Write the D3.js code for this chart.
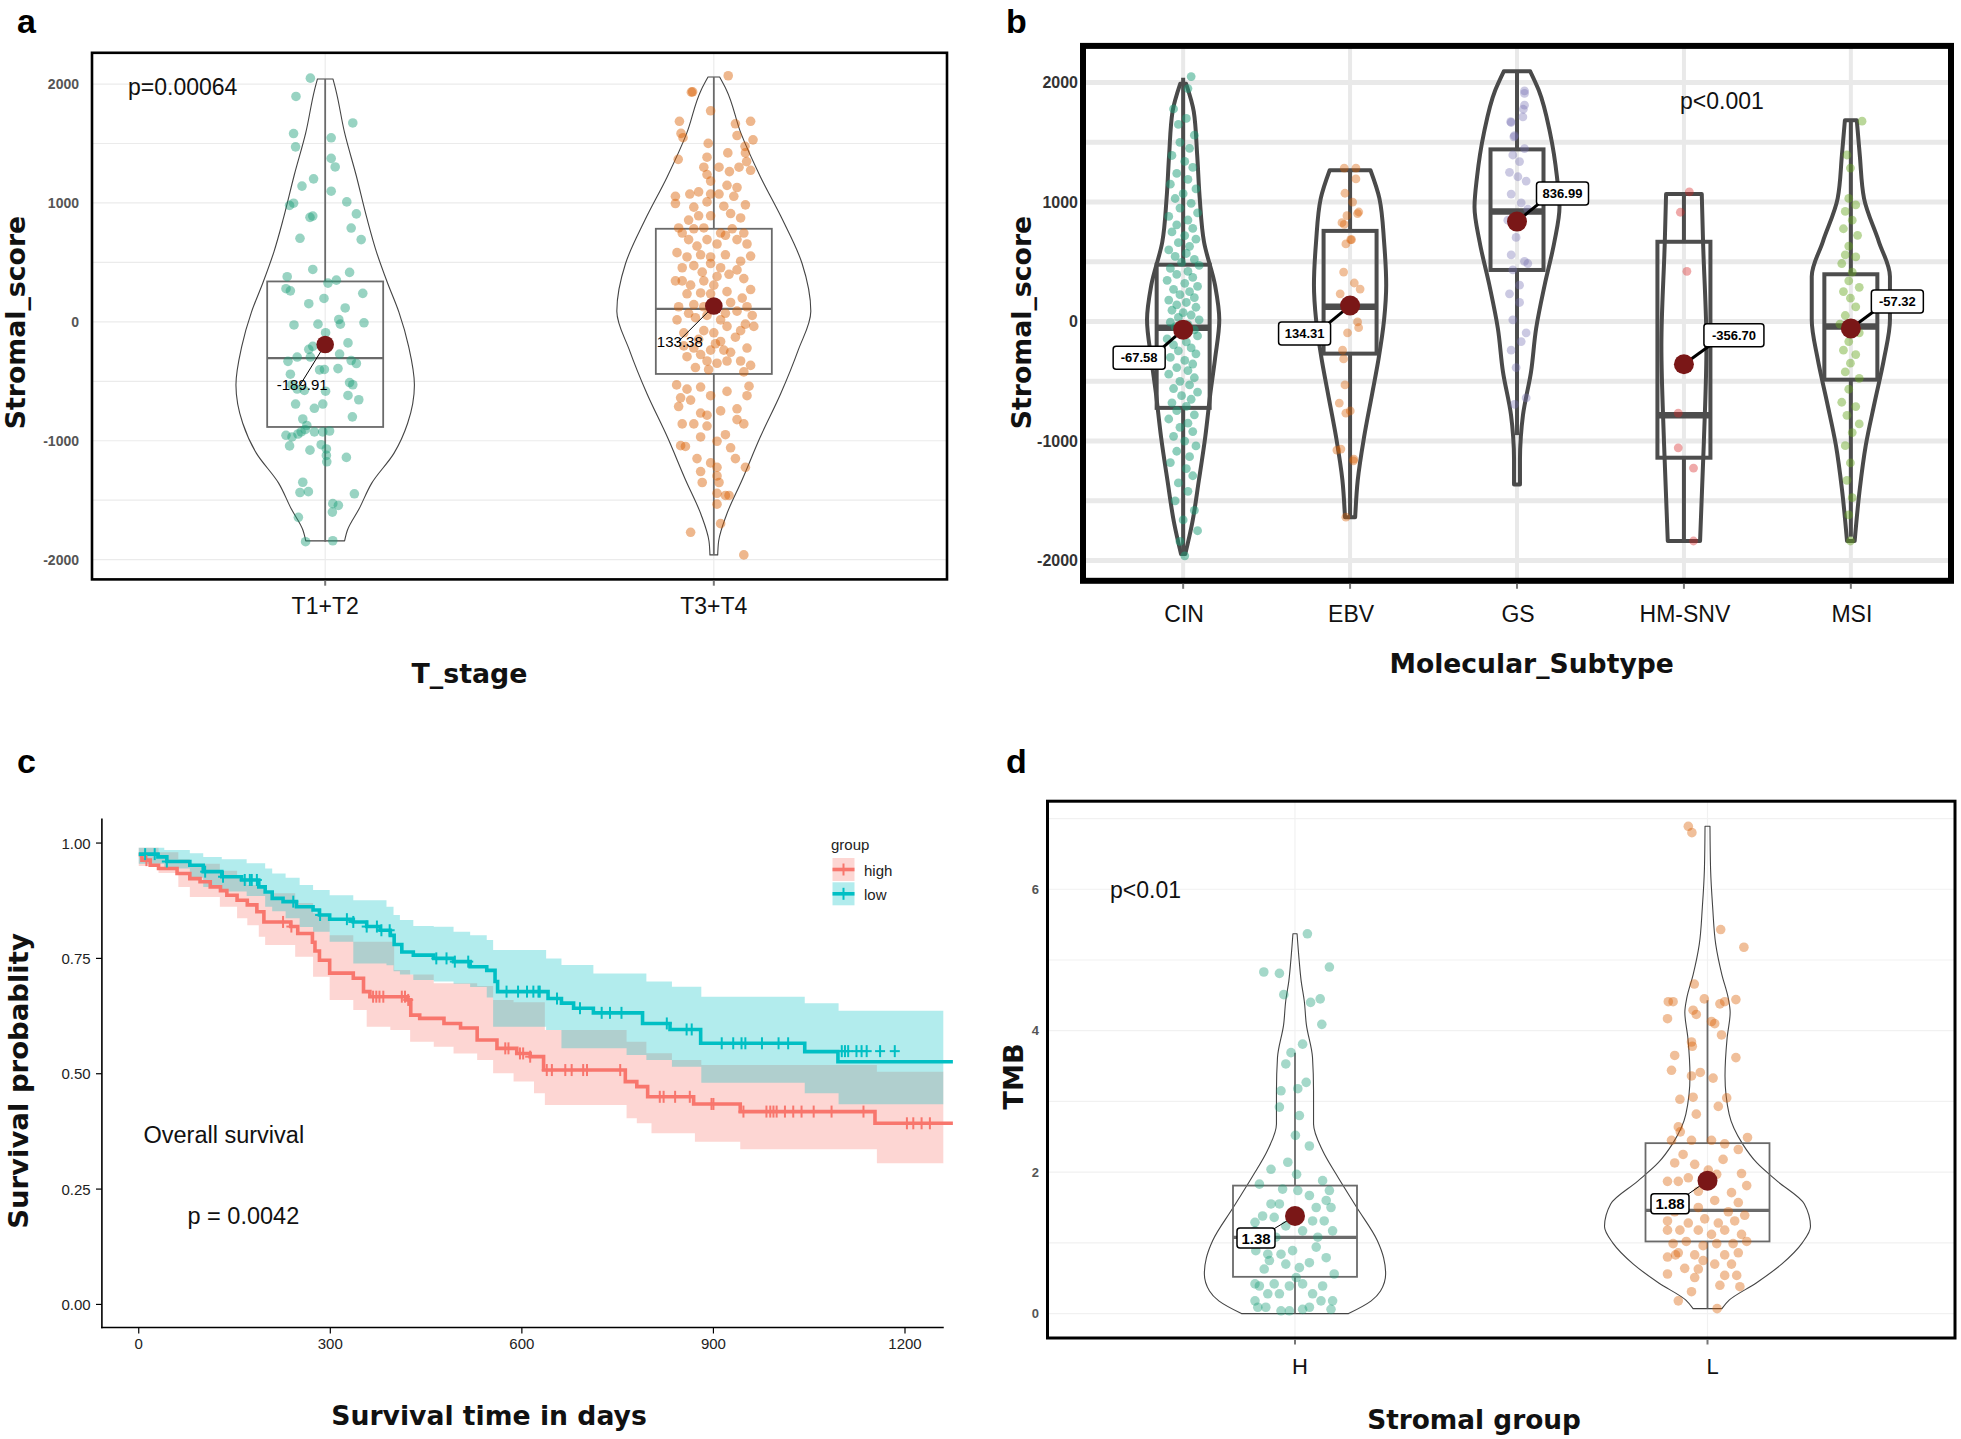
<!DOCTYPE html>
<html><head><meta charset="utf-8">
<script src="https://cdn.jsdelivr.net/npm/d3@7"></script>
<style>body{margin:0;background:#fff}svg{display:block}</style>
</head><body>
<svg id="chart" width="1961" height="1439"></svg>
<script>
// ---------------- DATA ----------------
// Panel a
const catsA = ['T1+T2', 'T3+T4'];
const statsA = [[-1849, -884, -305, 340, 2043], [-1960, -438, 110, 783, 2059]]; // min,q1,med,q3,max
const meansA = [-189.91, 133.38];
const violinA = [
  [[2043,0.08],[1950,0.11],[1591,0.2],[1231,0.32],[872,0.43],[585,0.53],[333,0.64],[82,0.76],[-206,0.86],[-530,0.92],[-853,0.85],[-1104,0.71],[-1356,0.48],[-1572,0.35],[-1750,0.23],[-1842,0.2]],
  [[2059,0.06],[1951,0.13],[1585,0.28],[1221,0.48],[856,0.71],[491,0.91],[90,1],[-238,0.87],[-603,0.69],[-967,0.48],[-1332,0.29],[-1624,0.13],[-1843,0.05],[-1960,0.04]]
];
const ptsT12 = [[-0.37,2050],[-0.73,1896],[0.69,1673],[-0.79,1584],[0.15,1548],[-0.74,1472],[0.15,1375],[0.25,1303],[-0.29,1203],[-0.58,1142],[0.15,1099],[0.54,1009],[-0.89,980],[-0.79,998],[-0.31,890],[-0.38,879],[0.78,908],[0.65,789],[-0.63,703],[0.9,692],[-0.31,441],[0.61,416],[-0.95,380],[-0.98,279],[-0.87,261],[0.28,351],[0.07,326],[0.94,240],[-0.41,153],[-0.03,197],[0.5,117],[0.34,20],[0.38,-19],[-0.78,-26],[-0.18,-19],[0.97,-8],[0.01,-91],[-0.31,-206],[-0.41,-231],[0.57,-177],[-0.7,-296],[-0.37,-296],[0.36,-271],[-0.93,-332],[-0.87,-440],[0.65,-325],[0.78,-350],[0.32,-393],[-0.14,-404],[-0.02,-400],[0.61,-511],[0.69,-529],[-0.83,-529],[-0.7,-565],[-0.52,-576],[0.01,-583],[0.57,-619],[0.84,-655],[-0.27,-727],[-0.06,-691],[-0.74,-691],[0.68,-799],[-0.56,-817],[-0.46,-871],[-0.6,-925],[-0.27,-925],[-0.98,-954],[-0.83,-968],[-0.68,-943],[-0.5,-907],[-0.06,-925],[0.11,-918],[-0.89,-1043],[-0.1,-1033],[0.03,-1069],[-0.38,-1079],[0.03,-1123],[0.04,-1177],[0.53,-1140],[-0.56,-1349],[-0.63,-1435],[-0.42,-1428],[0.73,-1446],[0.19,-1529],[0.33,-1543],[0.18,-1600],[-0.67,-1644],[-0.49,-1849],[0.19,-1841]];
const ptsT34 = [[0.36,2070],[-0.53,1935],[-0.56,1932],[-0.08,1775],[-0.86,1687],[0.54,1666],[0.92,1687],[-0.82,1585],[-0.77,1549],[0.98,1531],[0.58,1567],[-0.14,1501],[0.78,1476],[-0.89,1367],[-0.17,1385],[0.35,1421],[0.79,1421],[0.82,1348],[-0.25,1301],[0.13,1301],[0.39,1264],[0.63,1301],[0.92,1275],[-0.17,1239],[-0.08,1184],[0.33,1148],[0.58,1130],[-0.6,1075],[-0.96,1056],[-0.38,1093],[-0.08,1075],[0.13,1075],[0.5,1056],[-0.96,995],[-0.5,965],[-0.17,1009],[0.79,984],[0.25,973],[-0.63,856],[-0.38,892],[-0.08,892],[0.42,911],[0.67,874],[-0.88,790],[-0.25,790],[0.17,747],[0.46,783],[0.75,747],[-0.63,692],[-0.17,692],[0.08,655],[0.58,692],[0.83,655],[-0.92,582],[-0.33,564],[-0.08,546],[0.29,564],[0.92,553],[-0.79,455],[-0.5,473],[-0.08,491],[0.17,455],[0.58,437],[0.75,364],[-0.58,309],[-0.25,345],[0.08,382],[-0.67,236],[-0.33,243],[0.33,254],[0.92,272],[-0.88,127],[-0.5,145],[0.58,90],[0.83,127],[-0.92,17],[-0.46,35],[0.17,17],[0.33,-38],[1.0,-38],[-0.75,-92],[-0.25,-74],[0,-92],[0.54,-129],[0.67,-74],[-0.5,-220],[-0.08,-238],[0.25,-238],[0.42,-256],[0.83,-220],[-0.67,-293],[-0.17,-329],[0.08,-348],[0.67,-329],[0.92,-366],[-0.46,-384],[-0.13,-402],[0.75,-421],[-0.93,-530],[-0.67,-566],[-0.33,-548],[0.88,-541],[-0.83,-639],[-0.58,-658],[-0.08,-621],[0.33,-585],[0.83,-621],[-0.88,-712],[-0.33,-767],[-0.17,-785],[0.17,-749],[0.58,-731],[-0.5,-858],[-0.79,-858],[-0.17,-876],[0.58,-822],[0.75,-858],[-0.83,-1041],[-0.71,-1048],[-0.33,-968],[0.08,-1004],[0.29,-949],[0.42,-1059],[-0.42,-1150],[-0.08,-1186],[0.54,-1150],[0.08,-1223],[-0.33,-1259],[0.08,-1296],[0.79,-1223],[-0.29,-1351],[0.13,-1351],[0.08,-1442],[0.29,-1460],[0.38,-1460],[0.08,-1533],[0.17,-1697],[-0.58,-1770],[0.75,-1960],[-0.79,747],[-0.5,783],[0.29,728],[-0.42,637],[-0.67,546],[0.67,510],[0.38,400],[-0.29,418],[-0.79,345],[-0.08,236],[0.71,200],[-0.63,72],[-0.17,54],[0.29,72],[0.79,-19],[-0.38,-147],[0.17,-165],[-0.75,-202],[0.33,-329],[-0.33,-275],[0.04,-184],[0.96,54],[-0.96,345],[0.42,163],[0,309],[-0.25,127]];
const ticksA = [2000, 1000, 0, -1000, -2000];
const gridA = [2000, 1500, 1000, 500, 0, -500, -1000, -1500, -2000];

// Panel b
const catsB = ['CIN', 'EBV', 'GS', 'HM-SNV', 'MSI'];
const statsB = [[-1950,-722,-51,476,2040],[-1637,-268,124,759,1267],[-950,432,922,1441,2095],[-1836,-1139,-784,668,1067],[-1800,-486,-40,396,1684]];
const meansB = [-67.58, 134.31, 836.99, -356.70, -57.32];
const violinB = [
  [[1990,0.07],[1757,0.25],[1394,0.33],[1031,0.39],[668,0.49],[305,0.75],[15,0.85],[-312,0.75],[-602,0.64],[-965,0.52],[-1328,0.37],[-1691,0.21],[-1945,0.05]],
  [[1267,0.48],[1031,0.69],[668,0.8],[305,0.85],[15,0.8],[-312,0.67],[-602,0.52],[-965,0.33],[-1328,0.18],[-1637,0.12]],
  [[2095,0.31],[1938,0.51],[1575,0.78],[1212,0.94],[958,1],[668,0.88],[305,0.65],[-58,0.45],[-421,0.33],[-784,0.14],[-965,0.09],[-1150,0.07],[-1364,0.07]],
  [[1067,0.42],[668,0.45],[-200,0.53],[-1000,0.47],[-1836,0.38]],
  [[1684,0.14],[1394,0.21],[1031,0.31],[668,0.66],[378,0.92],[15,0.92],[-312,0.78],[-675,0.56],[-1038,0.35],[-1401,0.21],[-1836,0.09]]
];
const ptsCIN = [[0.5,2050],[0.3,1950],[-0.6,1780],[0.2,1700],[-0.3,1650],[0.7,1560],[-0.2,1500],[0.4,1450],[-0.7,1390],[0.1,1340],[0.6,1290],[-0.4,1240],[0.3,1190],[-0.8,1150],[0.8,1110],[0,1070],[-0.5,1030],[0.5,990],[-0.2,950],[0.9,910],[-0.9,880],[0.3,850],[-0.4,810],[0.6,780],[-0.7,750],[0.1,720],[0.8,690],[-0.3,660],[0.4,630],[-0.9,600],[0.2,570],[-0.5,545],[0.7,520],[-0.1,495],[1,470],[-0.8,445],[0.3,420],[-0.4,395],[0.6,370],[-1,345],[0.1,320],[0.9,295],[-0.6,270],[0.4,250],[-0.2,225],[0.7,200],[-0.9,180],[0.2,160],[-0.4,140],[0.8,120],[-0.7,95],[0,75],[0.5,55],[-0.3,35],[1,15],[-0.8,-5],[0.3,-25],[-0.5,-45],[0.7,-70],[-0.1,-95],[0.9,-120],[-1,-145],[0.2,-170],[-0.6,-195],[0.5,-220],[-0.3,-245],[0.8,-270],[-0.8,-300],[0.1,-325],[0.6,-355],[-0.4,-385],[0.3,-410],[-0.9,-440],[0.7,-470],[-0.2,-500],[0.4,-530],[-0.6,-560],[0.9,-590],[-0.1,-620],[0.5,-650],[-0.7,-680],[0.2,-710],[-0.4,-745],[0.7,-780],[-0.9,-815],[0.3,-850],[-0.2,-885],[0.6,-920],[-0.6,-960],[0.1,-1000],[0.8,-1040],[-0.4,-1085],[0.4,-1130],[-0.8,-1180],[0.2,-1230],[0.6,-1290],[-0.3,-1350],[0.3,-1420],[-0.5,-1500],[0.7,-1580],[0,-1660],[0.9,-1750],[-0.2,-1840],[0.1,-1960]];
const ptsEBV = [[-0.39,1285],[0.39,1285],[0.39,1194],[-0.34,1074],[-0.21,886],[0.5,904],[-0.39,813],[0.1,686],[-0.28,650],[-0.43,414],[0.28,323],[-0.66,232],[0.5,-3],[0.57,-51],[-0.17,-94],[-0.5,-239],[-0.43,-312],[-0.34,-530],[-0.72,-682],[0.01,-748],[-0.28,-766],[-0.61,-1067],[0.23,-1165],[-0.28,-1637],[-0.54,828],[0.58,917],[0.17,1000],[0.04,685],[0.67,272],[-0.88,-1075],[0.25,-1150]];
const ptsGS = [[0.5,1909],[0.5,1811],[-0.39,1666],[0.39,1713],[-0.17,1557],[0.5,1448],[-0.28,1394],[0.17,1339],[-0.5,1249],[0.06,1212],[0.61,1176],[-0.39,1067],[0.28,994],[0.72,940],[-0.61,849],[-0.06,704],[-0.39,559],[0.5,504],[-0.28,432],[0.72,486],[0.17,305],[-0.5,232],[0.17,160],[-0.28,15],[0.61,-94],[0.28,-167],[-0.39,-239],[-0.06,-385],[0.61,-639],[-0.17,-693],[0.5,1931],[0.42,1777],[-0.42,1673],[-0.21,1546]];
const ptsHM = [[0.36,1085],[-0.24,915],[0.2,421],[-0.38,-766],[-0.38,-1056],[0.64,-1226],[0.64,-1836]];
const ptsMSI = [[0.8,1677],[-0.28,1394],[-0.03,1285],[-0.15,1031],[0.35,976],[-0.4,922],[0.1,849],[-0.53,777],[0.48,722],[-0.15,632],[-0.4,559],[0.35,541],[-0.65,486],[0.1,414],[-0.15,341],[0.6,287],[-0.53,251],[-0.03,196],[0.35,124],[-0.4,51],[-0.78,-22],[0.6,-94],[-0.15,-167],[-0.53,-239],[0.35,-276],[-0.03,-348],[-0.4,-421],[0.6,-475],[-0.15,-566],[-0.65,-675],[0.35,-711],[-0.28,-784],[0.6,-856],[0.1,-929],[-0.4,-1038],[-0.03,-1183],[-0.28,-1328],[0.1,-1473],[-0.15,-1618],[-0.03,-1836]];
const ticksB = [2000, 1000, 0, -1000, -2000];
const gridB = [2000, 1500, 1000, 500, 0, -500, -1000, -1500, -2000];

// Panel c (Kaplan-Meier)
const kmGroups = ['high', 'low'];
const highCurve = [[0,0.975],[5,0.963],[18,0.952],[31,0.945],[60,0.934],[80,0.923],[96,0.916],[112,0.905],[128,0.897],[138,0.887],[154,0.876],[170,0.866],[185,0.851],[196,0.829],[238,0.819],[249,0.804],[272,0.785],[276,0.766],[283,0.746],[299,0.718],[336,0.707],[352,0.678],[362,0.667],[420,0.66],[426,0.627],[440,0.62],[478,0.609],[504,0.599],[530,0.573],[561,0.555],[592,0.544],[613,0.537],[634,0.508],[762,0.483],[780,0.472],[797,0.45],[869,0.4345],[942,0.418],[1153,0.3926],[1275,0.3926]];
const lowCurve = [[0,0.976],[30,0.97],[44,0.96],[80,0.952],[101,0.938],[130,0.927],[161,0.92],[188,0.905],[198,0.894],[209,0.88],[226,0.873],[247,0.862],[273,0.855],[283,0.844],[299,0.835],[336,0.829],[357,0.819],[378,0.811],[394,0.8],[400,0.78],[412,0.764],[430,0.757],[462,0.75],[493,0.743],[519,0.732],[545,0.724],[558,0.7],[562,0.678],[641,0.663],[662,0.653],[681,0.642],[712,0.632],[789,0.609],[832,0.596],[880,0.566],[1043,0.548],[1095,0.526],[1275,0.526]];
const highBand = [[0,0.95,0.99],[31,0.935,0.98],[62,0.905,0.965],[80,0.883,0.955],[127,0.862,0.94],[154,0.837,0.925],[170,0.822,0.909],[188,0.797,0.905],[198,0.779,0.891],[245,0.7535,0.87],[273,0.71,0.848],[299,0.66,0.8],[336,0.638,0.786],[357,0.602,0.786],[394,0.595,0.786],[400,0.595,0.725],[425,0.5695,0.715],[462,0.5586,0.696],[493,0.544,0.696],[530,0.53,0.69],[555,0.501,0.66],[587,0.483,0.655],[619,0.4576,0.655],[636,0.432,0.595],[764,0.4035,0.5695],[780,0.3927,0.5695],[795,0.3927,0.5443],[803,0.371,0.5443],[835,0.371,0.53],[871,0.3528,0.53],[881,0.3528,0.519],[942,0.3363,0.519],[1156,0.306,0.5045],[1260,0.306,0.5045]];
const lowBand = [[0,0.955,0.99],[40,0.945,0.985],[80,0.925,0.978],[101,0.905,0.97],[130,0.895,0.965],[169,0.885,0.956],[198,0.862,0.945],[209,0.852,0.934],[230,0.837,0.925],[252,0.818,0.909],[273,0.808,0.898],[299,0.786,0.887],[336,0.739,0.876],[388,0.735,0.862],[399,0.722,0.844],[409,0.715,0.833],[430,0.703,0.82],[462,0.7,0.8185],[493,0.695,0.808],[519,0.688,0.8],[545,0.665,0.79],[555,0.602,0.768],[638,0.595,0.75],[662,0.555,0.7355],[712,0.555,0.717],[764,0.5406,0.717],[795,0.53,0.7],[835,0.515,0.6885],[881,0.4806,0.667],[1043,0.4576,0.6526],[1096,0.434,0.6366],[1260,0.434,0.6366]];
const censorHigh = [12,226,239,367,372,377,383,412,417,422,574,579,597,602,613,639,647,668,678,696,702,754,816,822,840,863,897,900,947,983,989,994,999,1012,1025,1038,1057,1085,1135,1203,1213,1226,1239];
const censorLow = [10,25,44,104,132,166,174,177,185,242,284,326,336,357,373,380,393,466,482,495,516,576,594,608,618,626,628,655,691,725,738,756,827,858,866,913,931,944,950,976,1002,1017];
const censorLowLate = [[1101,0.549],[1106,0.549],[1111,0.549],[1124,0.549],[1132,0.549],[1140,0.549],[1161,0.549],[1184,0.549]];
const ticksCx = [0, 300, 600, 900, 1200];
const ticksCy = [0, 0.25, 0.5, 0.75, 1];

// Panel d
const catsD = ['H', 'L'];
const statsD = [[0, 0.52, 1.077, 1.81, 3.69], [0.07, 1.02, 1.46, 2.41, 4.43]];
const meansD = [1.38, 1.88];
const violinD = [
  [[5.37,0.02],[5.0,0.04],[4.7,0.06],[4.42,0.09],[4.09,0.11],[3.62,0.17],[3.15,0.18],[2.68,0.18],[2.3,0.27],[1.97,0.4],[1.5,0.6],[1.03,0.8],[0.79,0.86],[0.56,0.88],[0.32,0.83],[0.18,0.74],[0,0.52]],
  [[6.89,0.024],[6.28,0.03],[5.75,0.05],[5.22,0.08],[4.79,0.14],[4.47,0.2],[4.26,0.22],[3.89,0.19],[3.36,0.17],[2.82,0.21],[2.4,0.34],[2.13,0.48],[1.87,0.68],[1.55,0.94],[1.23,1],[1.0,0.92],[0.7,0.72],[0.43,0.47],[0.19,0.21],[0.07,0.14]]
];
const ptsH = [[0.31,5.37],[0.86,4.9],[-0.78,4.83],[-0.39,4.81],[-0.28,4.51],[0.63,4.45],[0.39,4.4],[0.67,4.09],[0.19,3.81],[-0.1,3.69],[-0.23,3.53],[0.28,3.27],[-0.35,3.15],[0.07,3.18],[-0.39,2.92],[0.11,2.8],[0.01,2.52],[0.36,2.37],[-0.18,2.14],[-0.6,2.04],[0.04,1.97],[0.69,1.88],[-0.89,1.83],[-0.31,1.76],[0.07,1.74],[0.36,1.67],[0.78,1.6],[-0.6,1.55],[-0.39,1.55],[0.53,1.5],[0.11,1.43],[0.9,1.5],[-1.0,1.29],[-0.81,1.38],[-0.52,1.36],[0.44,1.31],[0.73,1.31],[0.94,1.17],[-1.0,1.17],[-0.23,1.24],[0.19,1.17],[0.53,0.94],[-0.98,0.89],[-0.68,0.84],[-0.35,0.84],[-0.06,0.89],[0.78,0.79],[-0.64,0.75],[-0.23,0.7],[0.11,0.65],[0.36,0.72],[0.98,0.56],[-1.0,0.42],[-0.89,0.39],[-0.52,0.42],[-0.14,0.39],[0.19,0.42],[0.69,0.39],[-0.68,0.28],[-0.39,0.28],[0.44,0.28],[-0.93,0.09],[-0.73,0.09],[-0.14,0.04],[0.19,0.06],[0.36,0.09],[0.9,0.06],[-0.35,0.04],[-1.0,0.18],[0.65,0.18],[0.94,0.18],[0.03,0.51],[-0.77,0.63],[0.57,1.08],[-0.48,1.08],[0.86,1.74]];
const ptsL = [[-0.48,6.89],[-0.39,6.8],[0.91,5.18],[0.33,5.43],[-0.33,4.66],[-0.98,4.41],[-0.86,4.41],[-0.08,4.45],[0.31,4.38],[0.43,4.41],[0.71,4.44],[-0.36,4.29],[-0.28,4.23],[-1.0,4.17],[0.1,4.13],[0.18,4.1],[0.35,3.94],[-0.4,3.84],[-0.38,3.78],[-0.82,3.65],[0.71,3.62],[-0.9,3.44],[-0.18,3.41],[0.14,3.33],[-0.4,3.36],[-0.69,3.03],[-0.36,3.06],[0.48,3.05],[0.27,2.93],[-0.28,2.82],[-0.73,2.64],[-0.68,2.57],[1.0,2.49],[-0.9,2.45],[-0.4,2.45],[0.1,2.45],[0.43,2.4],[0.77,2.32],[-0.61,2.25],[0.39,2.18],[-0.82,2.13],[-0.32,2.11],[0.02,2.03],[0.85,1.98],[-1.0,1.87],[-0.73,1.87],[-0.48,1.92],[0.23,1.97],[0.98,1.81],[-0.23,1.73],[0.6,1.71],[0.18,1.6],[-0.57,1.55],[0.77,1.57],[-0.23,1.5],[-0.82,1.44],[0.52,1.44],[0.93,1.39],[-1.0,1.31],[-0.48,1.28],[-0.07,1.34],[0.27,1.28],[0.68,1.31],[-1.0,1.18],[-0.69,1.18],[-0.23,1.18],[0.43,1.18],[0.85,1.12],[-0.86,0.99],[-0.53,1.02],[-0.11,0.96],[0.23,0.99],[0.64,0.99],[0.98,1.02],[-0.73,0.86],[-0.32,0.83],[0.43,0.83],[0.77,0.86],[-1.0,0.8],[-0.11,0.75],[0.18,0.7],[0.6,0.7],[-0.57,0.64],[-0.23,0.63],[-1.0,0.56],[0.43,0.54],[0.73,0.54],[-0.32,0.51],[0.31,0.4],[0.81,0.38],[-0.4,0.31],[-0.73,0.18],[0.24,0.07],[-0.8,0.83],[0.1,1.12]];
const ticksD = [0, 2, 4, 6];
const gridD = [0, 1, 2, 3, 4, 5, 6, 7];

// ---------------- DRAWING ----------------
const SANS = "'Liberation Sans', Arial, Helvetica, sans-serif";
const HEAVY = "'DejaVu Sans', 'Liberation Sans', sans-serif";
const svg = d3.select('#chart');
svg.append('rect').attr('width', 1961).attr('height', 1439).attr('fill', '#fff');

function letter(t, x, y) {
  svg.append('text').attr('x', x).attr('y', y).text(t)
    .attr('font-family', SANS).attr('font-weight', 'bold').attr('font-size', 34).attr('fill', '#000');
}
function heavy(t, x, y, len, rot) {
  svg.append('text').attr('text-anchor', 'middle').attr('dominant-baseline', 'central')
    .attr('font-family', HEAVY).attr('font-weight', 'bold').attr('font-size', 26).attr('fill', '#111')
    .attr('textLength', len).attr('lengthAdjust', 'spacingAndGlyphs')
    .attr('transform', `translate(${x},${y}) rotate(${rot})`).text(t);
}
function plain(t, x, y, size, anchor, color, weight) {
  return svg.append('text').attr('x', x).attr('y', y).text(t).attr('text-anchor', anchor || 'start')
    .attr('dominant-baseline', 'central').attr('font-family', SANS).attr('font-size', size)
    .attr('fill', color || '#111').attr('font-weight', weight || 'normal');
}

function violinPanel(o) {
  const [fx0, fy0, fx1, fy1] = o.frame;
  const x = d3.scalePoint().domain(o.cats).range([fx0, fx1]).padding(0.6);
  const y = d3.scaleLinear().domain(o.yDomain).range([fy1, fy0]);
  const g = svg.append('g');
  g.append('clipPath').attr('id', 'clip' + o.id).append('rect')
    .attr('x', fx0).attr('y', fy0).attr('width', fx1 - fx0).attr('height', fy1 - fy0);
  const inner = g.append('g').attr('clip-path', `url(#clip${o.id})`);
  o.grid.forEach(v => inner.append('line').attr('x1', fx0).attr('x2', fx1).attr('y1', y(v)).attr('y2', y(v))
    .attr('stroke', o.gridColor).attr('stroke-width', o.gridW));
  o.cats.forEach(c => inner.append('line').attr('x1', x(c)).attr('x2', x(c)).attr('y1', fy0).attr('y2', fy1)
    .attr('stroke', o.gridColor).attr('stroke-width', o.vgridW));

  o.cats.forEach((c, i) => {
    const cx = x(c);
    const area = d3.area().curve(d3.curveMonotoneY).y(d => y(d[0]))
      .x0(d => cx - d[1] * o.violinW).x1(d => cx + d[1] * o.violinW);
    const prof = o.profiles[i].slice().sort((a, b) => b[0] - a[0]);
    inner.append('path').attr('d', area(prof)).attr('fill', 'none')
      .attr('stroke', o.violinStroke).attr('stroke-width', o.violinSW).attr('stroke-linejoin', 'round');
    const s = o.stats[i];
    const bw = o.boxW;
    inner.append('line').attr('x1', cx).attr('x2', cx).attr('y1', y(s[4])).attr('y2', y(s[3]))
      .attr('stroke', o.boxStroke).attr('stroke-width', o.boxSW);
    inner.append('line').attr('x1', cx).attr('x2', cx).attr('y1', y(s[1])).attr('y2', y(s[0]))
      .attr('stroke', o.boxStroke).attr('stroke-width', o.boxSW);
    inner.append('rect').attr('x', cx - bw / 2).attr('y', y(s[3])).attr('width', bw).attr('height', y(s[1]) - y(s[3]))
      .attr('fill', 'none').attr('stroke', o.boxStroke).attr('stroke-width', o.boxSW);
    inner.append('line').attr('x1', cx - bw / 2).attr('x2', cx + bw / 2).attr('y1', y(s[2])).attr('y2', y(s[2]))
      .attr('stroke', o.boxStroke).attr('stroke-width', o.medSW);
    o.points[i].forEach(p => inner.append('circle').attr('cx', cx + p[0] * o.jitterW[i]).attr('cy', y(p[1]))
      .attr('r', o.ptR).attr('fill', o.colors[i]).attr('fill-opacity', o.ptOpacity[i]));
  });
  // means + labels
  o.cats.forEach((c, i) => {
    const cx = x(c), my = y(o.means[i]);
    const off = o.labelOff[i];
    const lx = cx + off[0], ly = my + off[1];
    const txt = o.labelFmt(o.means[i]);
    g.append('line').attr('x1', cx).attr('y1', my).attr('x2', lx + (off[0] < 0 ? o.labelBox[0] / 2 - 3 : -o.labelBox[0] / 2 + 3))
      .attr('y2', ly + (off[1] < 0 ? o.labelBox[1] / 2 - 2 : -o.labelBox[1] / 2 + 2))
      .attr('stroke', '#000').attr('stroke-width', o.leaderW);
    g.append('circle').attr('cx', cx).attr('cy', my).attr('r', o.meanR).attr('fill', '#7a1717');
    if (o.labelBox[0] > 0) {
      const w = o.labelBox[0] + (txt.length > 6 ? 8 : 0);
      g.append('rect').attr('x', lx - w / 2).attr('y', ly - o.labelBox[1] / 2).attr('width', w).attr('height', o.labelBox[1])
        .attr('rx', 3).attr('fill', '#fff').attr('stroke', '#000').attr('stroke-width', 1.5);
    }
    plain(txt, lx, ly, o.labelSize, 'middle', '#000', o.labelWeight);
  });
  // frame
  g.append('rect').attr('x', fx0).attr('y', fy0).attr('width', fx1 - fx0).attr('height', fy1 - fy0)
    .attr('fill', 'none').attr('stroke', '#000').attr('stroke-width', o.frameW);
  // y ticks
  o.ticks.forEach(v => plain(String(v), o.tickX, y(v), o.tickSize, 'end', o.tickColor, 'bold'));
  // x ticks
  o.cats.forEach(c => {
    g.append('line').attr('x1', x(c)).attr('x2', x(c)).attr('y1', fy1 + o.frameW / 2).attr('y2', fy1 + o.frameW / 2 + 5)
      .attr('stroke', '#777').attr('stroke-width', 2);
    plain(c, x(c) + o.catDx, o.catY, o.catSize, 'middle', '#111');
  });
}

// ---- Panel a
letter('a', 17, 33);
violinPanel({
  id: 'a', frame: [92, 52.8, 947, 579.4], yDomain: [-2166, 2263], cats: catsA,
  grid: gridA, gridColor: '#ebebeb', gridW: 1.2, vgridW: 1.2,
  profiles: violinA, violinW: 97, violinStroke: '#444', violinSW: 1.1,
  stats: statsA, boxW: 116, boxStroke: '#6a6a6a', boxSW: 1.8, medSW: 2.2,
  points: [ptsT12, ptsT34], jitterW: [40, 40], ptR: 4.8, colors: ['#1B9E77', '#D95F02'], ptOpacity: [0.45, 0.45],
  means: meansA, meanR: 8.8, labelOff: [[-23, 40], [-34, 35]], labelBox: [0, 0], leaderW: 1,
  labelFmt: v => v.toFixed(2), labelSize: 15, labelWeight: 'normal',
  frameW: 2.6, ticks: ticksA, tickX: 79, tickSize: 14, tickColor: '#555',
  catY: 606, catSize: 23, catDx: 0
});
plain('p=0.00064', 128, 87, 23, 'start', '#111');
heavy('T_stage', 469.5, 673.5, 116, 0);
heavy('Stromal_score', 15.6, 322.5, 213.5, -90);

// ---- Panel b
letter('b', 1006, 33);
violinPanel({
  id: 'b', frame: [1083, 45.9, 1951, 580.8], yDomain: [-2169, 2307], cats: catsB,
  grid: gridB, gridColor: '#e9e9e9', gridW: 5, vgridW: 4,
  profiles: violinB, violinW: 42.5, violinStroke: '#4a4a4a', violinSW: 4,
  stats: statsB, boxW: 53, boxStroke: '#4d4d4d', boxSW: 4, medSW: 6.5,
  points: [ptsCIN, ptsEBV, ptsGS, ptsHM, ptsMSI], jitterW: [16, 15, 15, 15, 14], ptR: 4.4,
  colors: ['#1B9E77', '#D95F02', '#7570B3', '#D62728', '#66A61E'], ptOpacity: [0.5, 0.4, 0.38, 0.4, 0.45],
  means: meansB, meanR: 10, labelOff: [[-44, 28], [-45.5, 28], [45.5, -28], [50, -29], [46.5, -27]], labelBox: [52, 23], leaderW: 3,
  labelFmt: v => v.toFixed(2), labelSize: 13, labelWeight: 'bold',
  frameW: 6, ticks: ticksB, tickX: 1078, tickSize: 16, tickColor: '#333',
  catY: 614, catSize: 23, catDx: 1
});
plain('p<0.001', 1680, 101, 23, 'start', '#111');
heavy('Molecular_Subtype', 1531.6, 664.4, 284.4, 0);
heavy('Stromal_score', 1022, 322.5, 213.5, -90);

// ---- Panel d
letter('d', 1006, 773);
violinPanel({
  id: 'd', frame: [1047.5, 801.2, 1955, 1338], yDomain: [-0.345, 7.245], cats: catsD,
  grid: gridD, gridColor: '#f1f1f1', gridW: 1.2, vgridW: 1.2,
  profiles: violinD, violinW: 103, violinStroke: '#444', violinSW: 1.1,
  stats: statsD, boxW: 124, boxStroke: '#6a6a6a', boxSW: 1.8, medSW: 3.2,
  points: [ptsH, ptsL], jitterW: [40, 40], ptR: 4.8, colors: ['#1B9E77', '#D95F02'], ptOpacity: [0.4, 0.4],
  means: meansD, meanR: 10, labelOff: [[-39, 22], [-37.5, 23]], labelBox: [38, 20], leaderW: 1,
  labelFmt: v => v.toFixed(2), labelSize: 15, labelWeight: 'bold',
  frameW: 3, ticks: ticksD, tickX: 1039, tickSize: 13, tickColor: '#555',
  catY: 1366, catSize: 22, catDx: 5
});
plain('p<0.01', 1110, 890, 23, 'start', '#111');
heavy('Stromal group', 1474, 1420, 213.7, 0);
heavy('TMB', 1013.5, 1076.4, 66.5, -90);

// ---- Panel c (KM)
letter('c', 17, 773);
(function () {
  const x = d3.scaleLinear().domain([-57.7, 1260.7]).range([101.9, 943.75]);
  const y = d3.scaleLinear().domain([-0.05, 1.053]).range([1327.5, 818.6]);
  const cols = { high: '#F8766D', low: '#00BFC4' };
  const g = svg.append('g');
  const band = d3.area().curve(d3.curveStepAfter).x(d => x(d[0])).y0(d => y(d[1])).y1(d => y(d[2]));
  g.append('path').attr('d', band(highBand)).attr('fill', cols.high).attr('fill-opacity', 0.3);
  g.append('path').attr('d', band(lowBand)).attr('fill', cols.low).attr('fill-opacity', 0.3);
  const line = d3.line().curve(d3.curveStepAfter).x(d => x(d[0])).y(d => y(d[1]));
  const curves = { high: highCurve, low: lowCurve };
  kmGroups.forEach(k => g.append('path').attr('d', line(curves[k])).attr('fill', 'none')
    .attr('stroke', cols[k]).attr('stroke-width', 3.6));
  function level(curve, t) { let s = curve[0][1]; curve.forEach(p => { if (p[0] <= t) s = p[1]; }); return s; }
  function cross(t, s, col) {
    const cx = x(t), cy = y(s);
    g.append('line').attr('x1', cx).attr('x2', cx).attr('y1', cy - 6).attr('y2', cy + 6).attr('stroke', col).attr('stroke-width', 2);
    g.append('line').attr('x1', cx - 5).attr('x2', cx + 5).attr('y1', cy).attr('y2', cy).attr('stroke', col).attr('stroke-width', 2);
  }
  censorHigh.forEach(t => cross(t, level(highCurve, t), cols.high));
  censorLow.forEach(t => cross(t, level(lowCurve, t), cols.low));
  censorLowLate.forEach(p => cross(p[0], p[1], cols.low));
  // axes
  g.append('line').attr('x1', 101.9).attr('x2', 101.9).attr('y1', 818.6).attr('y2', 1328.3).attr('stroke', '#000').attr('stroke-width', 1.6);
  g.append('line').attr('x1', 101.1).attr('x2', 943.75).attr('y1', 1327.5).attr('y2', 1327.5).attr('stroke', '#000').attr('stroke-width', 1.6);
  ticksCy.forEach(v => {
    g.append('line').attr('x1', 96).attr('x2', 101.9).attr('y1', y(v)).attr('y2', y(v)).attr('stroke', '#000').attr('stroke-width', 1.2);
    plain(v.toFixed(2), 90.6, y(v), 15, 'end', '#222');
  });
  ticksCx.forEach(v => {
    g.append('line').attr('x1', x(v)).attr('x2', x(v)).attr('y1', 1327.5).attr('y2', 1333.5).attr('stroke', '#000').attr('stroke-width', 1.2);
    plain(String(v), x(v), 1343, 15, 'middle', '#222');
  });
  // legend
  plain('group', 831, 844, 15, 'start', '#222');
  kmGroups.forEach((k, i) => {
    const ky = 858 + i * 24.3;
    g.append('rect').attr('x', 832.5).attr('y', ky).attr('width', 22).attr('height', 23)
      .attr('fill', cols[k]).attr('fill-opacity', 0.3);
    g.append('line').attr('x1', 832.5).attr('x2', 854.5).attr('y1', ky + 11.5).attr('y2', ky + 11.5)
      .attr('stroke', cols[k]).attr('stroke-width', 3.6);
    g.append('line').attr('x1', 843.5).attr('x2', 843.5).attr('y1', ky + 5.5).attr('y2', ky + 17.5)
      .attr('stroke', cols[k]).attr('stroke-width', 2);
    plain(k, 864, ky + 12, 15, 'start', '#222');
  });
  plain('Overall survival', 143.5, 1135, 23.5, 'start', '#111');
  plain('p = 0.0042', 187.5, 1216, 23.5, 'start', '#111');
})();
heavy('Survival time in days', 489, 1416, 315.6, 0);
heavy('Survival  probablity', 19, 1081, 295.7, -90);
</script>
</body></html>
